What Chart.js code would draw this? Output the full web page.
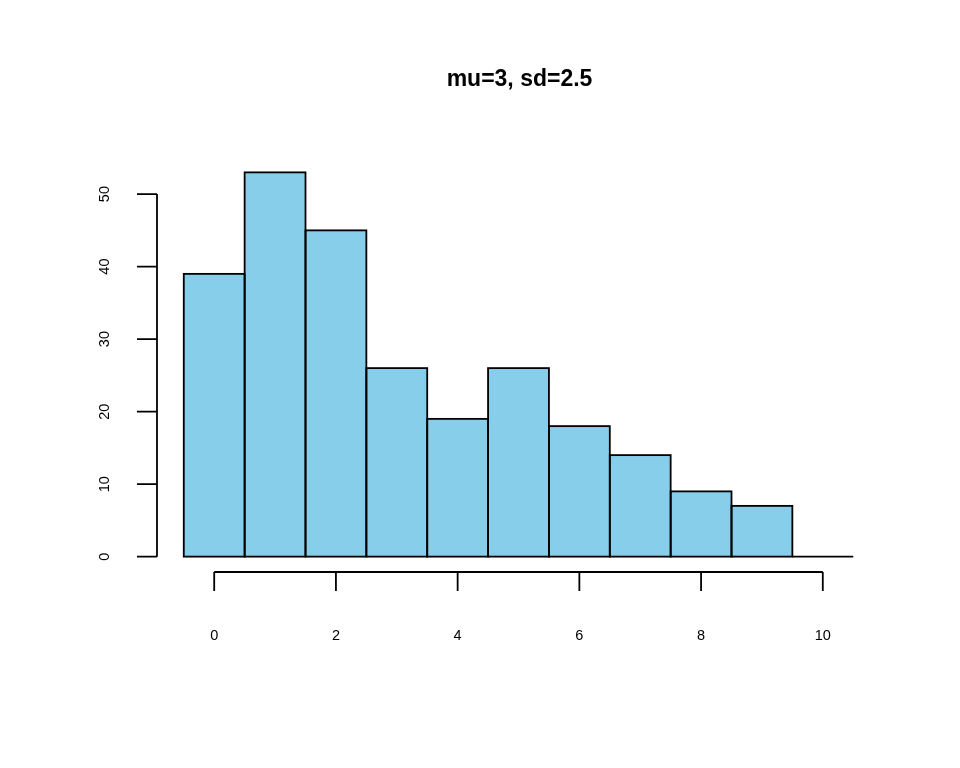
<!DOCTYPE html>
<html>
<head>
<meta charset="utf-8">
<script src="https://cdn.jsdelivr.net/npm/chart.js@4.4.1/dist/chart.umd.min.js"></script>
<style>
  body { margin: 0; background: #fff; }
</style>
</head>
<body>
<canvas id="hist" width="960" height="768"></canvas>
<script>
// histogram bins (centres) and counts
var binCentres = [0, 1, 2, 3, 4, 5, 6, 7, 8, 9, 10];
var counts = [39, 53, 45, 26, 19, 26, 18, 14, 9, 7, 0];
var xTicks = [0, 2, 4, 6, 8, 10];
var yTicks = [0, 10, 20, 30, 40, 50];
var titleText = "mu=3, sd=2.5";

// R style axes: drawn apart from the plot, only over the tick range
var rAxes = {
  id: "rAxes",
  afterDatasetsDraw: function (chart) {
    var ctx = chart.ctx;
    var xs = chart.scales.x;
    var ys = chart.scales.y;
    ctx.save();
    ctx.strokeStyle = "#000";
    ctx.lineWidth = 1.8;

    // bar outlines, like rect() in R
    chart.getDatasetMeta(0).data.forEach(function (bar) {
      var left = bar.x - bar.width / 2;
      ctx.strokeRect(left, bar.y, bar.width, bar.base - bar.y);
    });

    // y axis
    var yAxisX = chart.chartArea.left;
    ctx.beginPath();
    ctx.moveTo(yAxisX, ys.getPixelForValue(yTicks[0]));
    ctx.lineTo(yAxisX, ys.getPixelForValue(yTicks[yTicks.length - 1]));
    yTicks.forEach(function (v) {
      var py = ys.getPixelForValue(v);
      ctx.moveTo(yAxisX, py);
      ctx.lineTo(yAxisX - 20, py);
    });
    ctx.stroke();

    // x axis
    var xAxisY = chart.chartArea.bottom;
    ctx.beginPath();
    ctx.moveTo(xs.getPixelForValue(xTicks[0]), xAxisY);
    ctx.lineTo(xs.getPixelForValue(xTicks[xTicks.length - 1]), xAxisY);
    xTicks.forEach(function (v) {
      var px = xs.getPixelForValue(v);
      ctx.moveTo(px, xAxisY);
      ctx.lineTo(px, xAxisY + 19);
    });
    ctx.stroke();

    ctx.fillStyle = "#000";
    ctx.font = "14.5px 'Liberation Sans', Arial, sans-serif";
    ctx.textAlign = "center";
    ctx.textBaseline = "middle";
    xTicks.forEach(function (v) {
      ctx.fillText(String(v), xs.getPixelForValue(v), xAxisY + 64);
    });
    yTicks.forEach(function (v) {
      ctx.save();
      ctx.translate(yAxisX - 52, ys.getPixelForValue(v));
      ctx.rotate(-Math.PI / 2);
      ctx.fillText(String(v), 0, 0);
      ctx.restore();
    });

    // title
    ctx.font = "bold 23px 'Liberation Sans', Arial, sans-serif";
    ctx.fillText(titleText, (chart.chartArea.left + chart.chartArea.right) / 2 + 1, 80);
    ctx.restore();
  },
};

var ctx = document.getElementById("hist").getContext("2d");
var histChart = new Chart(ctx, {
  type: "bar",
  data: {
    datasets: [
      {
        data: binCentres.map(function (c, i) {
          return { x: c, y: counts[i] };
        }),
        backgroundColor: "#87CEEB",
        borderWidth: 0,
        barPercentage: 1,
        categoryPercentage: 1,
      },
    ],
  },
  options: {
    responsive: false,
    animation: false,
    layout: {
      padding: { left: 157, right: 80, top: 157, bottom: 196 },
    },
    plugins: {
      legend: { display: false },
      tooltip: { enabled: false },
    },
    scales: {
      x: {
        type: "linear",
        min: -0.94,
        max: 10.94,
        display: false,
        offset: false,
        // ticks on the bin centres so the bar width is one full bin
        afterBuildTicks: function (scale) {
          scale.ticks = binCentres.map(function (v) {
            return { value: v };
          });
        },
      },
      y: {
        min: -2.12,
        max: 55.12,
        display: false,
      },
    },
  },
  plugins: [rAxes],
});
</script>
</body>
</html>
